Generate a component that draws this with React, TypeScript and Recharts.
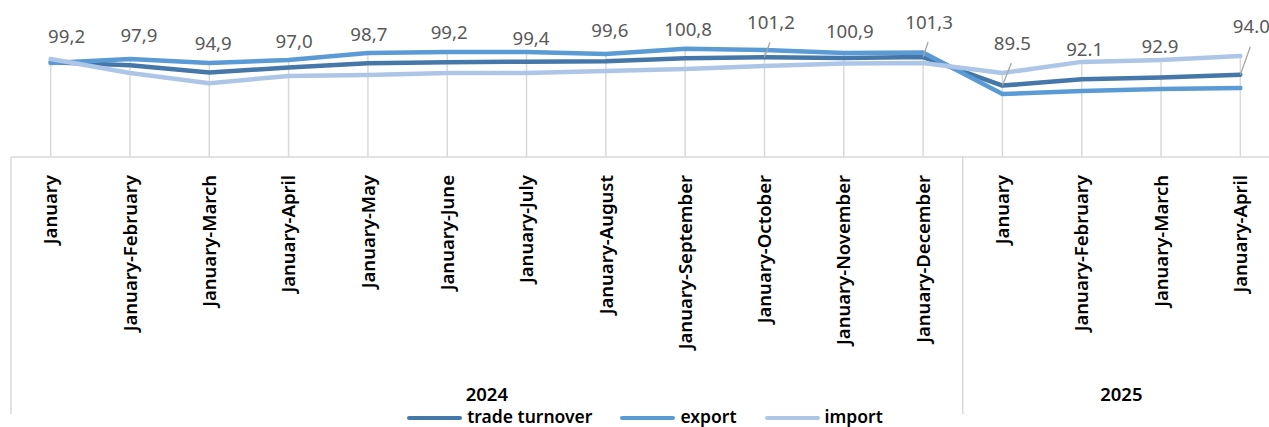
import { LineChart, Line, XAxis, YAxis, ReferenceLine, LabelList, Legend } from "recharts";

// periods on the category axis
const categories = [
  "January",
  "January-February",
  "January-March",
  "January-April",
  "January-May",
  "January-June",
  "January-July",
  "January-August",
  "January-September",
  "January-October",
  "January-November",
  "January-December",
  "January",
  "January-February",
  "January-March",
  "January-April",
];
const periodYears = [
  "2024", "2024", "2024", "2024", "2024", "2024", "2024", "2024", "2024", "2024", "2024", "2024",
  "2025", "2025", "2025", "2025",
];

const seriesNames = ["trade turnover", "export", "import"];

const tradeTurnover = [99.2, 97.9, 94.9, 97.0, 98.7, 99.2, 99.4, 99.6, 100.8, 101.2, 100.9, 101.3, 89.5, 92.1, 92.9, 94.0];
const exportValues = [98.8, 100.5, 98.8, 100.1, 103.0, 103.4, 103.4, 102.6, 104.7, 104.2, 103.0, 103.2, 86.0, 87.3, 88.1, 88.5];
const importValues = [100.5, 94.7, 90.5, 93.5, 93.9, 94.7, 94.7, 95.5, 96.4, 97.6, 98.6, 98.8, 94.7, 99.3, 100.1, 101.7];

const turnoverLabels = [
  "99,2", "97,9", "94,9", "97,0", "98,7", "99,2", "99,4", "99,6", "100,8", "101,2", "100,9", "101,3",
  "89.5", "92.1", "92.9", "94.0",
];

// manual label nudges (dx, dy from the point), like the hand-placed labels in the source
const labelNudge: [number, number][] = [
  [16, -26], [9, -30], [4, -29.5], [5.5, -26.5], [1, -29], [2, -30], [4.5, -23.6], [4, -31],
  [3, -29], [6.5, -35], [6, -27], [6, -35], [10, -42.6], [3, -30], [-1, -31], [11, -48],
];
const leaderIdx = [9, 11, 12, 15];

const COLORS = { turnover: "#4677a9", export: "#5b9bd5", import: "#adc6e7" };
const FONT = "'Noto Sans', 'Open Sans', sans-serif";

const CHART_W = 1290;
const CHART_H = 427;
const MARGIN = { top: 36, right: 10, left: 11, bottom: 0 };
const PLOT_W = CHART_W - MARGIN.left - MARGIN.right;
const BAND = PLOT_W / categories.length;
const PLOT_BOTTOM = 157;
const BOX_BOTTOM = 414;
const Y_MIN = 60;

const data = categories.map((c, i) => ({
  key: `${periodYears[i]}|${c}`,
  turnover: tradeTurnover[i],
  export: exportValues[i],
  import: importValues[i],
}));

function CategoryTick(props: any) {
  const { x, index } = props;
  const top = 175;
  return (
    <text
      x={x}
      y={top}
      dy="0.36em"
      transform={`rotate(-90, ${x}, ${top})`}
      textAnchor="end"
      fontFamily={FONT}
      fontSize={18.5}
      fontWeight={600}
      fill="#000"
    >
      {categories[index]}
    </text>
  );
}

function YearTick(props: any) {
  const { x, index } = props;
  const year = periodYears[index];
  const first = periodYears.indexOf(year);
  const last = periodYears.lastIndexOf(year);
  const mid = (first + last) / 2;
  return (
    <g>
      {index === 0 && (
        <line x1={x - BAND / 2} x2={x - BAND / 2} y1={PLOT_BOTTOM} y2={BOX_BOTTOM} stroke="#d9d9d9" strokeWidth={1.5} />
      )}
      {index === last && (
        <line x1={x + BAND / 2} x2={x + BAND / 2} y1={PLOT_BOTTOM} y2={BOX_BOTTOM} stroke="#d9d9d9" strokeWidth={1.5} />
      )}
      {index === Math.floor(mid) && (
        <text
          x={x + (mid - Math.floor(mid)) * BAND}
          y={394}
          dy="0.36em"
          textAnchor="middle"
          fontFamily={FONT}
          fontSize={18.5}
          fontWeight={600}
          fill="#000"
        >
          {year}
        </text>
      )}
    </g>
  );
}

const renderTurnoverLabel = (props: any) => {
  const { x, y, index } = props;
  const [dx, dy] = labelNudge[index];
  const cx = x + dx;
  const cy = y + dy;
  const fs = 18.7;
  return (
    <g key={`lbl-${index}`}>
      {leaderIdx.includes(index) && (
        <line x1={cx - 1} y1={cy + 20} x2={x} y2={y} stroke="#a6a6a6" strokeWidth={1.3} />
      )}
      <text x={cx} y={cy + fs * 0.36} textAnchor="middle" fontFamily={FONT} fontSize={fs} fill="#595959">
        {turnoverLabels[index]}
      </text>
    </g>
  );
};

function LegendContent(props: any) {
  const items = [...(props.payload || [])].sort(
    (a: any, b: any) => seriesNames.indexOf(a.value) - seriesNames.indexOf(b.value)
  );
  return (
    <div
      style={{
        display: "flex",
        justifyContent: "center",
        gap: 28,
        fontFamily: FONT,
        fontSize: 17.5,
        fontWeight: 600,
        color: "#000",
        lineHeight: "17px",
      }}
    >
      {items.map((p: any) => (
        <div key={p.value} style={{ display: "flex", alignItems: "center" }}>
          <span
            style={{
              display: "inline-block",
              width: 55,
              height: 4.5,
              borderRadius: 3,
              background: p.color,
              marginRight: 5,
              marginTop: 3,
            }}
          />
          {p.value}
        </div>
      ))}
    </div>
  );
}

export default function App() {
  return (
    <div
      style={{
        position: "fixed",
        left: 0,
        top: 0,
        width: 1269,
        height: 427,
        overflow: "hidden",
        background: "#fff",
      }}
    >
      <LineChart width={CHART_W} height={CHART_H} data={data} margin={MARGIN}>
        <XAxis
          dataKey="key"
          interval={0}
          height={200}
          padding={{ left: BAND / 2, right: BAND / 2 }}
          tick={<CategoryTick />}
          tickLine={false}
          axisLine={{ stroke: "#d9d9d9", strokeWidth: 1.5 }}
        />
        <XAxis
          xAxisId="year"
          dataKey="key"
          interval={0}
          height={70}
          padding={{ left: BAND / 2, right: BAND / 2 }}
          tick={<YearTick />}
          tickLine={false}
          axisLine={false}
        />
        <YAxis hide domain={[Y_MIN, 110]} />
        {data.map((d) => (
          <ReferenceLine
            key={d.key}
            segment={[
              { x: d.key, y: Math.max(d.turnover, d.export, d.import) },
              { x: d.key, y: Y_MIN },
            ]}
            stroke="#d9d9d9"
            strokeWidth={1.5}
          />
        ))}
        <Line
          name={seriesNames[0]}
          dataKey="turnover"
          stroke={COLORS.turnover}
          strokeWidth={4.5}
          strokeLinejoin="round"
          strokeLinecap="round"
          dot={false}
          activeDot={false}
          isAnimationActive={false}
        >
          <LabelList dataKey="turnover" content={renderTurnoverLabel} />
        </Line>
        <Line
          name={seriesNames[1]}
          dataKey="export"
          stroke={COLORS.export}
          strokeWidth={4.5}
          strokeLinejoin="round"
          strokeLinecap="round"
          dot={false}
          activeDot={false}
          isAnimationActive={false}
        />
        <Line
          name={seriesNames[2]}
          dataKey="import"
          stroke={COLORS.import}
          strokeWidth={4.5}
          strokeLinejoin="round"
          strokeLinecap="round"
          dot={false}
          activeDot={false}
          isAnimationActive={false}
        />
        <Legend
          layout="horizontal"
          verticalAlign="middle"
          align="center"
          content={<LegendContent />}
          wrapperStyle={{ top: 408, left: 0, width: CHART_W }}
        />
      </LineChart>
    </div>
  );
}
